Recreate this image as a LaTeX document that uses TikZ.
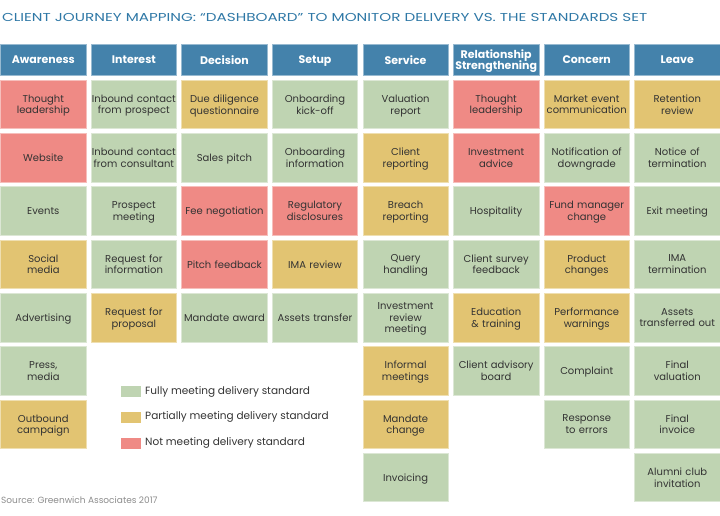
\documentclass[tikz,border=0pt]{standalone}
\usepackage{fontspec}
\setmainfont{Poppins}
\usetikzlibrary{positioning}

\definecolor{phaseblue}{HTML}{4482AB}
\definecolor{titleblue}{HTML}{2F78A6}
\definecolor{fullgreen}{HTML}{BFD4B2}
\definecolor{partyellow}{HTML}{E2C472}
\definecolor{notred}{HTML}{EF8A85}
\definecolor{inkgray}{HTML}{333333}
\definecolor{srcgray}{HTML}{8C8C8C}

\tikzset{
  cell/.style={rectangle, minimum width=85.4pt, minimum height=48.4pt, inner sep=0pt,
    text width=85pt, align=center, text=inkgray, line width=0.6pt,
    font=\fontsize{10}{11.7}\selectfont,
    execute at end node={\rule[-3.5pt]{0pt}{0pt}\vadjust{\kern-3.5pt}}},
  full/.style={cell, fill=fullgreen, draw=fullgreen!55!white},
  part/.style={cell, fill=partyellow, draw=partyellow!55!white},
  nomeet/.style={cell, fill=notred, draw=notred!55!white},
  phase/.style={cell, minimum height=31.4pt, fill=phaseblue, draw=phaseblue!55!white,
    text=white, font=\fontsize{11}{11.5}\selectfont\bfseries},
  swatch/.style={rectangle, minimum width=20pt, minimum height=11.6pt, inner sep=0pt},
  legendtext/.style={anchor=west, inner sep=0pt, text=inkgray,
    font=\fontsize{10.5}{11}\selectfont}
}

\begin{document}
\begin{tikzpicture}[node distance=4.3pt and 4.57pt]
        \useasboundingbox (0,0) rectangle (720pt,515pt);

        % Title
        \node (title) [anchor=base west, inner sep=0pt, text=titleblue,
          font=\fontsize{11.5}{12}\selectfont\addfontfeatures{FakeStretch=1.32}] at (2pt,493.5pt)
          {CLIENT JOURNEY MAPPING: “DASHBOARD” TO MONITOR DELIVERY VS. THE STANDARDS SET};

        % Phases
        \node (aw) [phase, anchor=north west] at (0.3pt,471.4pt) {Awareness};
        \node (in) [phase, right=of aw] {Interest};
        \node (de) [phase, right=of in] {Decision};
        \node (se) [phase, right=of de] {Setup};
        \node (sv) [phase, right=of se] {Service};
        \node (rs) [phase, right=of sv] {Relationship\\[-1.5pt]Strengthening};
        \node (co) [phase, right=of rs] {Concern};
        \node (le) [phase, right=of co] {Leave};

        % Awareness
        \node (aw1) [nomeet, below=of aw] {Thought\\leadership};
        \node (aw2) [nomeet, below=of aw1] {Website};
        \node (aw3) [full, below=of aw2] {Events};
        \node (aw4) [part, below=of aw3] {Social\\media};
        \node (aw5) [full, below=of aw4] {Advertising};
        \node (aw6) [full, below=of aw5] {Press,\\media};
        \node (aw7) [part, below=of aw6] {Outbound\\campaign};

        % Interest
        \node (in1) [full, below=of in] {Inbound contact\\from prospect};
        \node (in2) [full, below=of in1] {Inbound contact\\from consultant};
        \node (in3) [full, below=of in2] {Prospect\\meeting};
        \node (in4) [full, below=of in3] {Request for\\information};
        \node (in5) [part, below=of in4] {Request for\\proposal};

        % Decision
        \node (de1) [part, below=of de] {Due diligence\\questionnaire};
        \node (de2) [full, below=of de1] {Sales pitch};
        \node (de3) [nomeet, below=of de2] {Fee negotiation};
        \node (de4) [nomeet, below=of de3] {Pitch feedback};
        \node (de5) [full, below=of de4] {Mandate award};

        % Setup
        \node (se1) [full, below=of se] {Onboarding\\kick-off};
        \node (se2) [full, below=of se1] {Onboarding\\information};
        \node (se3) [nomeet, below=of se2] {Regulatory\\disclosures};
        \node (se4) [part, below=of se3] {IMA review};
        \node (se5) [full, below=of se4] {Assets transfer};

        % Service
        \node (sv1) [full, below=of sv] {Valuation\\report};
        \node (sv2) [part, below=of sv1] {Client\\reporting};
        \node (sv3) [part, below=of sv2] {Breach\\reporting};
        \node (sv4) [full, below=of sv3] {Query\\handling};
        \node (sv5) [full, below=of sv4] {Investment\\review\\meeting};
        \node (sv6) [part, below=of sv5] {Informal\\meetings};
        \node (sv7) [part, below=of sv6] {Mandate\\change};
        \node (sv8) [full, below=of sv7] {Invoicing};

        % Relationship strengthening
        \node (rs1) [nomeet, below=of rs] {Thought\\leadership};
        \node (rs2) [nomeet, below=of rs1] {Investment\\advice};
        \node (rs3) [full, below=of rs2] {Hospitality};
        \node (rs4) [full, below=of rs3] {Client survey\\feedback};
        \node (rs5) [part, below=of rs4] {Education\\\& training};
        \node (rs6) [full, below=of rs5] {Client advisory\\board};

        % Concern
        \node (co1) [part, below=of co] {Market event\\communication};
        \node (co2) [full, below=of co1] {Notification of\\downgrade};
        \node (co3) [nomeet, below=of co2] {Fund manager\\change};
        \node (co4) [part, below=of co3] {Product\\changes};
        \node (co5) [part, below=of co4] {Performance\\warnings};
        \node (co6) [full, below=of co5] {Complaint};
        \node (co7) [full, below=of co6] {Response\\to errors};

        % Leave
        \node (le1) [part, below=of le] {Retention\\review};
        \node (le2) [full, below=of le1] {Notice of\\termination};
        \node (le3) [full, below=of le2] {Exit meeting};
        \node (le4) [full, below=of le3] {IMA\\termination};
        \node (le5) [full, below=of le4] {Assets\\transferred out};
        \node (le6) [full, below=of le5] {Final\\valuation};
        \node (le7) [full, below=of le6] {Final\\invoice};
        \node (le8) [full, below=of le7] {Alumni club\\invitation};

        % Legend
        \node (lfull) [swatch, fill=fullgreen] at (130.8pt,123.5pt) {};
        \node (lpart) [swatch, fill=partyellow, below=13.9pt of lfull] {};
        \node (lnot) [swatch, fill=notred, below=13.9pt of lpart] {};
        \node (tfull) [legendtext, right=4pt of lfull] {Fully meeting delivery standard};
        \node (tpart) [legendtext, right=4pt of lpart] {Partially meeting delivery standard};
        \node (tnot) [legendtext, right=4pt of lnot] {Not meeting delivery standard};

        % Source
        \node (src) [anchor=base west, inner sep=0pt, text=srcgray,
          font=\fontsize{9}{9.5}\selectfont] at (1pt,11.7pt)
          {Source: Greenwich Associates 2017};
    \end{tikzpicture}
\end{document}
